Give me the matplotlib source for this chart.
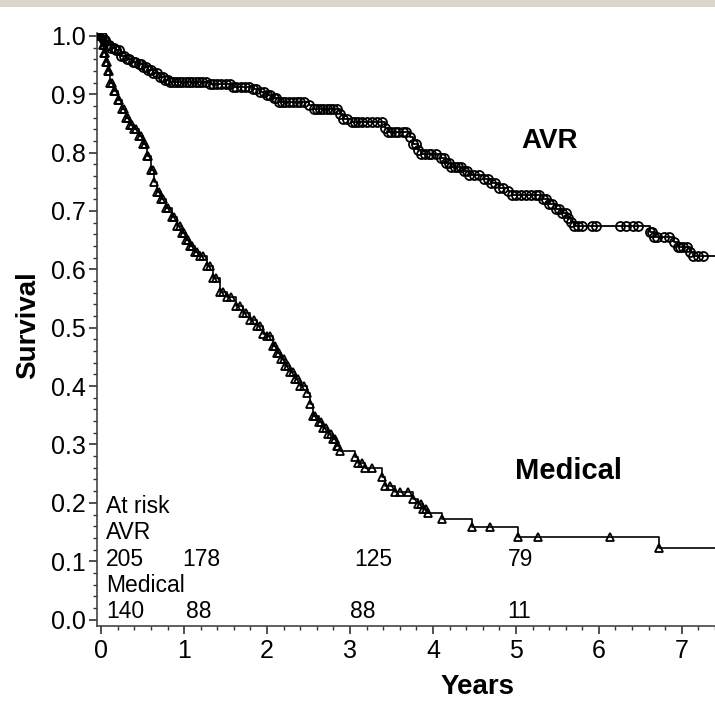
import numpy as np
import matplotlib
matplotlib.use("Agg")
import matplotlib.pyplot as plt
from matplotlib.patches import Rectangle
from matplotlib.ticker import MultipleLocator, FormatStrFormatter

plt.rcParams['font.family'] = ['Liberation Sans', 'DejaVu Sans']

# Kaplan-Meier steps (years, survival)
avr_t = [0, 0.03, 0.07, 0.12, 0.18, 0.24, 0.31, 0.38, 0.45, 0.51, 0.57, 0.63, 0.71,
         0.77, 0.83, 1.31, 1.59, 1.83, 1.92, 2.0, 2.08, 2.14, 2.5, 2.56, 2.88, 2.92,
         3.02, 3.42, 3.46, 3.72, 3.76, 3.82, 3.86, 4.1, 4.16, 4.22, 4.38, 4.44, 4.62,
         4.7, 4.8, 4.9, 4.95, 5.33, 5.4, 5.48, 5.56, 5.63, 5.67, 5.7, 6.62, 6.67, 6.9,
         6.95, 7.1, 7.14, 7.4]
avr_s = [1.0, 0.993, 0.985, 0.98, 0.975, 0.966, 0.96, 0.956, 0.951, 0.946, 0.941,
         0.936, 0.93, 0.925, 0.921, 0.917, 0.913, 0.909, 0.904, 0.899, 0.893, 0.887,
         0.881, 0.875, 0.866, 0.858, 0.852, 0.843, 0.835, 0.826, 0.815, 0.805, 0.798,
         0.79, 0.782, 0.775, 0.768, 0.762, 0.755, 0.748, 0.74, 0.734, 0.728, 0.72,
         0.712, 0.703, 0.696, 0.688, 0.681, 0.674, 0.664, 0.655, 0.646, 0.638, 0.63,
         0.623, 0.623]
avr_censor = [0.01, 0.05, 0.09, 0.15, 0.21, 0.27, 0.34, 0.41, 0.48, 0.54, 0.6, 0.67,
              0.74, 0.8, 0.86, 0.9, 0.94, 0.98, 1.02, 1.06, 1.1, 1.14, 1.18, 1.22,
              1.26, 1.35, 1.4, 1.45, 1.5, 1.55, 1.63, 1.68, 1.73, 1.78, 1.87, 1.96,
              2.04, 2.11, 2.18, 2.22, 2.27, 2.31, 2.36, 2.4, 2.45, 2.6, 2.64, 2.68,
              2.72, 2.76, 2.8, 2.84, 2.96, 3.06, 3.1, 3.14, 3.2, 3.27, 3.33, 3.38,
              3.5, 3.54, 3.58, 3.64, 3.68, 3.79, 3.9, 3.95, 3.98, 4.04, 4.13, 4.19,
              4.26, 4.3, 4.34, 4.41, 4.5, 4.55, 4.66, 4.75, 4.85, 5.0, 5.06, 5.12,
              5.18, 5.24, 5.28, 5.36, 5.44, 5.52, 5.6, 5.75, 5.8, 5.92, 5.97, 6.26,
              6.33, 6.41, 6.47, 6.64, 6.7, 6.78, 6.84, 6.98, 7.02, 7.06, 7.2, 7.26]

med_t = [0, 0.02, 0.04, 0.06, 0.08, 0.11, 0.15, 0.2, 0.25, 0.3, 0.35, 0.39, 0.45,
         0.51, 0.55, 0.6, 0.64, 0.67, 0.72, 0.78, 0.85, 0.92, 0.97, 1.02, 1.07, 1.13,
         1.19, 1.27, 1.35, 1.43, 1.52, 1.63, 1.71, 1.8, 1.88, 1.95, 2.0, 2.07, 2.12,
         2.17, 2.22, 2.28, 2.34, 2.4, 2.48, 2.52, 2.55, 2.62, 2.68, 2.74, 2.8, 2.84,
         2.88, 3.06, 3.1, 3.18, 3.39, 3.42, 3.54, 3.76, 3.82, 3.88, 3.94, 4.11, 4.47,
         5.02, 6.73, 7.4]
med_s = [1.0, 0.985, 0.97, 0.955, 0.94, 0.92, 0.905, 0.89, 0.875, 0.86, 0.848, 0.84,
         0.828, 0.815, 0.795, 0.77, 0.75, 0.732, 0.72, 0.705, 0.69, 0.674, 0.662,
         0.65, 0.64, 0.63, 0.623, 0.605, 0.585, 0.562, 0.553, 0.537, 0.525, 0.513,
         0.503, 0.49, 0.485, 0.468, 0.457, 0.446, 0.434, 0.424, 0.412, 0.4, 0.389,
         0.37, 0.348, 0.338, 0.328, 0.318, 0.309, 0.298, 0.288, 0.278, 0.269, 0.26,
         0.245, 0.228, 0.218, 0.206, 0.198, 0.19, 0.183, 0.172, 0.158, 0.142, 0.122,
         0.122]
med_censor = [0.01, 0.03, 0.05, 0.07, 0.1, 0.13, 0.17, 0.22, 0.27, 0.32, 0.37, 0.42,
              0.48, 0.53, 0.57, 0.62, 0.7, 0.75, 0.81, 0.88, 0.95, 1.0, 1.05, 1.1,
              1.16, 1.23, 1.31, 1.39, 1.47, 1.57, 1.67, 1.75, 1.84, 1.91, 2.03,
              2.1, 2.14, 2.2, 2.25, 2.31, 2.37, 2.44, 2.58, 2.65, 2.71, 2.77, 2.82,
              2.86, 3.14, 3.26, 3.48, 3.6, 3.7, 3.85, 3.91, 4.69, 5.27, 6.13]

# numbers at risk
risk_x = [0.06, 0.98, 3.05, 4.9]
risk_avr = ['205', '178', '125', '79']
risk_med_x = [0.06, 1.02, 3.0, 4.9]
risk_med = ['140', '88', '88', '11']


def step_at(ts, ss, x):
    idx = np.searchsorted(ts, x, side='right') - 1
    return np.asarray(ss)[idx]


fig = plt.figure(figsize=(7.15, 7.01), dpi=100)
fig.patches.append(Rectangle((0, 0.99), 1, 0.01, transform=fig.transFigure,
                             facecolor='#dbd5c9', edgecolor='none', zorder=0))
ax = fig.add_axes([0.1357, 0.107, 0.8643, 0.846])

mk = dict(markerfacecolor='none', markeredgecolor='black', markeredgewidth=1.3)
ax.plot(avr_t, avr_s, drawstyle='steps-post', color='black', lw=1.3, zorder=2)
ax.plot(avr_t[:-1], avr_s[:-1], ls='none', marker='o', ms=6.5, **mk, zorder=3)
ax.plot(avr_censor, step_at(avr_t, avr_s, avr_censor), ls='none', marker='o',
        ms=6.5, **mk, zorder=3)

ax.plot(med_t, med_s, drawstyle='steps-post', color='black', lw=1.2, zorder=2)
ax.plot(med_t[:-1], med_s[:-1], ls='none', marker='^', ms=6, **mk, zorder=3)
ax.plot(med_censor, step_at(med_t, med_s, med_censor), ls='none', marker='^',
        ms=6, **mk, zorder=3)

ax.text(5.41, 0.82, 'AVR', fontsize=20, fontweight='bold', ha='center', va='center')
ax.text(5.63, 0.254, 'Medical', fontsize=21, fontweight='bold', ha='center',
        va='center')

ax.text(0.06, 0.194, 'At risk', fontsize=16.5, ha='left', va='center')
ax.text(0.06, 0.149, 'AVR', fontsize=16.5, ha='left', va='center')
ax.text(0.06, 0.058, 'Medical', fontsize=16.5, ha='left', va='center')
for x, lab in zip(risk_x, risk_avr):
    ax.text(x, 0.103, lab, fontsize=16.5, ha='left', va='center')
for x, lab in zip(risk_med_x, risk_med):
    ax.text(x, 0.014, lab, fontsize=16.5, ha='left', va='center')

ax.set_xlim(-0.05, 7.4)
ax.set_ylim(-0.011, 1.005)
ax.spines['top'].set_visible(False)
ax.spines['right'].set_visible(False)
for sp in ('left', 'bottom'):
    ax.spines[sp].set_color('#444444')
    ax.spines[sp].set_linewidth(1.2)

ax.xaxis.set_major_locator(MultipleLocator(1))
ax.xaxis.set_minor_locator(MultipleLocator(0.2))
ax.yaxis.set_major_locator(MultipleLocator(0.1))
ax.yaxis.set_minor_locator(MultipleLocator(0.02))
ax.yaxis.set_major_formatter(FormatStrFormatter('%.1f'))
ax.tick_params(which='major', length=6, width=1.2, labelsize=18, color='#333333')
ax.tick_params(which='minor', length=3, width=1.0, color='#333333')
ax.tick_params(axis='y', pad=2)

fig.text(0.04, 0.536, 'Survival', fontsize=20, fontweight='bold', rotation=90,
         ha='center', va='center')
fig.text(0.668, 0.02, 'Years', fontsize=20, fontweight='bold', ha='center',
         va='center')

fig.savefig('out.png', dpi=100)
